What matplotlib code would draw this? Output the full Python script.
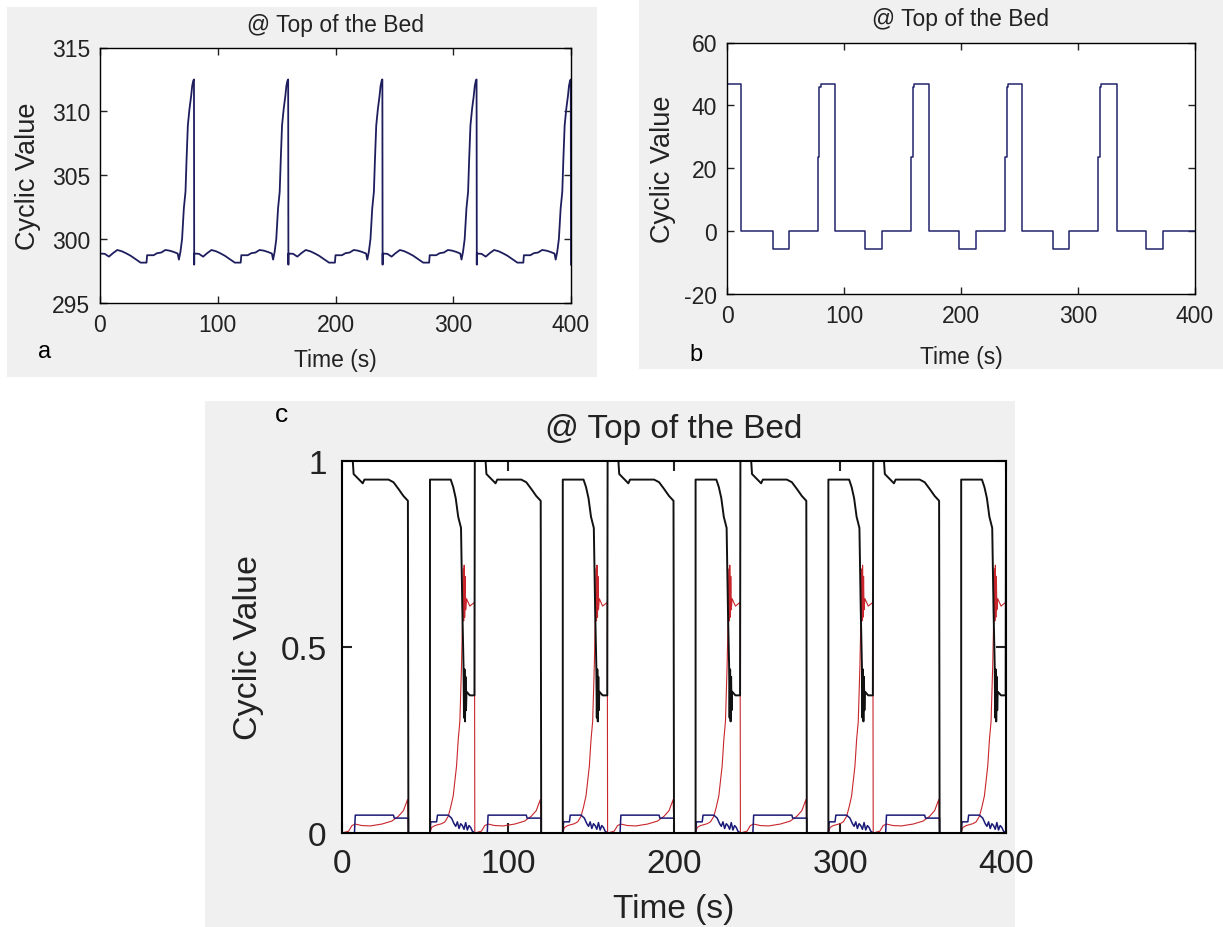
import numpy as np
import matplotlib
matplotlib.use('Agg')
from matplotlib import pyplot as plt
from matplotlib.patches import Rectangle

plt.rcParams['font.family'] = ['Liberation Sans', 'DejaVu Sans']
plt.rcParams['axes.unicode_minus'] = False

# one cycle lasts 80 s, five cycles are shown
period = 80
n_cycles = 5

# panel a: one cycle (s, value)
a_t = [0, 4, 7.6, 11, 14.7, 18.5, 22, 26, 30, 34.5, 39.5, 40, 45.5, 48.5, 52, 55.5, 59, 62.5,
       66, 67, 68.3, 69.7, 71.2, 72.6, 73.5, 74.6, 76, 77.4, 78.3, 79.2, 79.8, 80]
a_v = [298.87, 298.85, 298.63, 298.9, 299.15, 299.05, 298.9, 298.7, 298.45, 298.16, 298.16,
       298.74, 298.74, 298.9, 298.95, 299.15, 299.1, 299.0, 298.87, 298.4, 299.0, 300.0,
       302.4, 303.7, 306.2, 308.9, 310.2, 311.2, 312.0, 312.4, 312.5, 298.0]

# panel b: step breakpoints over the whole run
b_t = [0, 12, 39, 53, 77.5, 79, 80, 92.5, 118, 132.5, 157.5, 159, 160, 172.5, 198.5, 212.5,
       237.5, 239, 240, 252.5, 279, 292.5, 317.5, 319, 320, 333, 358.5, 372.5, 400]
b_v = [46.8, 0, -5.8, 0, 23.5, 46, 46.8, 0, -5.8, 0, 23.5, 46, 46.8, 0, -5.8, 0,
       23.5, 46, 46.8, 0, -5.8, 0, 23.5, 46, 46.8, 0, -5.8, 0, 0]

# panel c: one cycle of the three fractions
c_black_t = [0, 6.5, 7, 12.5, 13.5, 28, 31, 34, 37, 39.7, 40, 53, 53, 65.5, 67, 68.5, 70,
             71.7, 72.5, 73.2, 73.5, 73.8, 74.1, 74.4, 74.7, 75, 77, 79.8, 80]
c_black_v = [1.0, 1.0, 0.965, 0.94, 0.95, 0.95, 0.943, 0.925, 0.906, 0.893, 0.0, 0.0, 0.95,
             0.95, 0.93, 0.9, 0.85, 0.82, 0.6, 0.45, 0.31, 0.44, 0.30, 0.42, 0.33, 0.38,
             0.37, 0.37, 1.0]
c_red_t = [0, 4, 6, 8, 12, 17, 24, 30, 34, 37, 39.5, 40, 53, 54, 56, 60, 62, 64, 65.5, 67,
           68, 69, 70, 71, 72, 72.6, 73, 73.3, 73.6, 73.9, 74.2, 74.5, 75, 77, 79.8, 80]
c_red_v = [0, 0.005, 0.02, 0.024, 0.02, 0.019, 0.024, 0.032, 0.045, 0.06, 0.09, 0.0, 0.0,
           0.015, 0.02, 0.025, 0.03, 0.045, 0.07, 0.1, 0.14, 0.18, 0.25, 0.30, 0.45, 0.58,
           0.71, 0.57, 0.72, 0.58, 0.69, 0.6, 0.63, 0.61, 0.62, 0.0]
c_blue_t = [0, 7.5, 8, 31, 31.5, 40, 40, 53, 53.5, 57, 57.5, 64, 66, 67.5, 68.5, 69.5, 70.5,
            71.5, 72.5, 73.5, 74.5, 75.5, 76.5, 77.5, 78.5, 80]
c_blue_v = [0, 0, 0.048, 0.048, 0.04, 0.04, 0.0, 0.0, 0.03, 0.03, 0.048, 0.048, 0.04, 0.025,
            0.018, 0.03, 0.012, 0.025, 0.02, 0.01, 0.028, 0.008, 0.02, 0.015, 0.005, 0.0]

title = '@ Top of the Bed'
xlab = 'Time (s)'
ylab = 'Cyclic Value'


def cycles(t, v):
    # the run is cyclic steady state: same cycle five times
    tt = np.concatenate([np.asarray(t) + k * period for k in range(n_cycles)])
    return tt, np.tile(v, n_cycles)


W, H = 1223, 928
fig = plt.figure(figsize=(W / 100, H / 100), dpi=100)
fig.patch.set_facecolor('white')


def grey_box(x0, y0, x1, y1):
    fig.patches.append(Rectangle((x0 / W, 1 - y1 / H), (x1 - x0) / W, (y1 - y0) / H,
                                 transform=fig.transFigure, facecolor='#f0f0f0',
                                 edgecolor='none', zorder=-10))


def add_ax(l, t, r, b):
    return fig.add_axes([l / W, 1 - b / H, (r - l) / W, (b - t) / H])


def style(ax, fs, tick_len, lw, pad):
    ax.tick_params(direction='in', top=True, right=True, length=tick_len, width=lw,
                   labelsize=fs, pad=pad, colors='#222222')
    for s in ax.spines.values():
        s.set_linewidth(lw)
    ax.set_xlim(0, 400)
    ax.set_xticks([0, 100, 200, 300, 400])


grey_box(7, 8, 597, 378)
grey_box(639, 0, 1223, 370)
grey_box(205, 402, 1015, 928)

# a
ax = add_ax(100, 48.5, 571, 304)
ta, va = cycles(a_t, a_v)
ax.plot(ta, va, color='#1e1e5e', lw=1.3)
ax.set_ylim(295, 315)
ax.set_yticks([295, 300, 305, 310, 315])
style(ax, 16.5, 5, 1.0, 7)
ax.set_title(title, fontsize=16.5, pad=12, color='#222222')
ax.set_xlabel(xlab, fontsize=16.5, labelpad=9, color='#222222')
ax.set_ylabel(ylab, fontsize=19.5, labelpad=8, color='#222222')
fig.text(45 / W, 1 - 352 / H, 'a', fontsize=17, ha='center', va='center')

# b
ax = add_ax(727, 43.5, 1195, 295)
ax.plot(b_t, b_v, color='#24246e', lw=1.1, drawstyle='steps-post')
ax.set_ylim(-20, 60)
ax.set_yticks([-20, 0, 20, 40, 60])
style(ax, 16.5, 5, 1.0, 7)
ax.set_title(title, fontsize=16.5, pad=12.5, color='#222222')
ax.set_xlabel(xlab, fontsize=16.5, labelpad=13, color='#222222')
ax.set_ylabel(ylab, fontsize=19.5, labelpad=6, color='#222222')
fig.text(696 / W, 1 - 355 / H, 'b', fontsize=17, ha='center', va='center')

# c
ax = add_ax(342, 462, 1006, 834)
tk, vk = cycles(c_black_t, c_black_v)
tr, vr = cycles(c_red_t, c_red_v)
tb, vb = cycles(c_blue_t, c_blue_v)
ax.plot(tr, vr, color='#c8262c', lw=0.8)
ax.plot(tb, vb, color='#1a1a78', lw=1.1)
ax.plot(tk, vk, color='#111111', lw=1.4)
ax.set_ylim(0, 1)
ax.set_yticks([0, 0.5, 1])
ax.set_yticklabels(['0', '0.5', '1'])
style(ax, 24, 7, 1.5, 11)
ax.set_title(title, fontsize=24, pad=17, color='#222222')
ax.set_xlabel(xlab, fontsize=24, labelpad=10, color='#222222')
ax.set_ylabel(ylab, fontsize=24.5, labelpad=12, color='#222222')
fig.text(281 / W, 1 - 415 / H, 'c', fontsize=19, ha='center', va='center')

fig.savefig('out.png', dpi=100)
